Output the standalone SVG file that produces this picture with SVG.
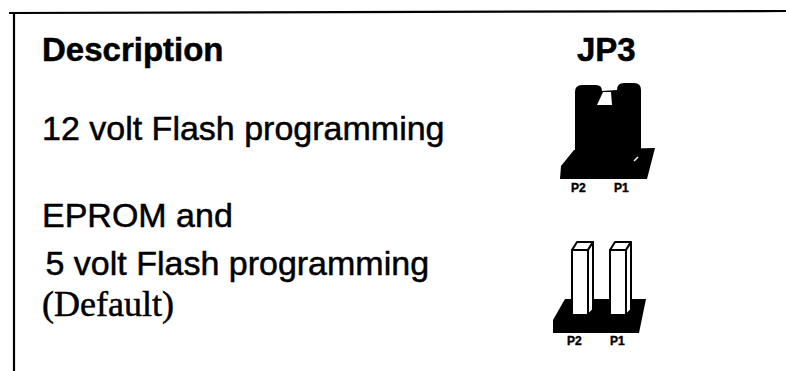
<svg xmlns="http://www.w3.org/2000/svg" width="786" height="371" viewBox="0 0 786 371">
  <style>
    .sans { font-family: "Liberation Sans", Arial, sans-serif; fill: #000; stroke: #000; stroke-width: 0.5; }
    .serif { font-family: "Liberation Serif", "Times New Roman", serif; fill: #000; stroke: #000; stroke-width: 0.5; }
    .head { font-weight: bold; font-size: 33px; }
    .body { font-size: 34px; }
    .pin-label { font-weight: bold; font-size: 12px; stroke-width: 0.4; }
    .frame { stroke: #000; stroke-width: 2.2; fill: none; }
    .ink { fill: #000; }
    .pin { fill: #fff; stroke: #000; stroke-width: 2; stroke-linejoin: round; }
  </style>
  <rect width="786" height="371" fill="#fff"/>

  <!-- table frame: top rule and left rule -->
  <g id="frame">
    <line class="frame" x1="9" y1="13" x2="786" y2="11"/>
    <line class="frame" x1="14" y1="12" x2="14" y2="371"/>
  </g>

  <!-- column headings -->
  <g id="headings">
    <text class="sans head" x="42" y="61">Description</text>
    <text class="sans head" x="577" y="61">JP3</text>
  </g>

  <!-- row 1: jumper fitted across P1-P2 -->
  <g id="row-12v">
    <text class="sans body" x="42" y="140">12 volt Flash programming</text>
    <g id="jp3-closed">
      <!-- base plate -->
      <polygon class="ink" points="574,150 655,148 647,179 560,179 561,166"/>
      <!-- jumper cap with two rounded tops -->
      <path class="ink" d="M575,163 L575,92 Q575,85 582,85 L596,85 Q602,85 602,91 L617,90 Q617,83 624,83 L634,83 Q641,83 641,90 L641,163 Z"/>
      <!-- light notch between the two tops -->
      <polygon fill="#fff" points="603,92 611,92 612,105 597,105"/>
      <!-- highlight on the plate -->
      <line x1="634" y1="161" x2="638" y2="157" stroke="#fff" stroke-width="1.5"/>
      <text class="sans pin-label" x="571" y="192">P2</text>
      <text class="sans pin-label" x="614" y="192">P1</text>
    </g>
  </g>

  <!-- row 2: both pins open -->
  <g id="row-5v">
    <text class="sans body" x="42" y="227">EPROM and</text>
    <text class="sans body" x="36" y="275" xml:space="preserve"> 5 volt Flash programming</text>
    <text class="serif body" x="42" y="316" style="font-size:36px">(Default)</text>
    <g id="jp3-open">
      <!-- base plate -->
      <polygon class="ink" points="565,299 646,299 639,333 553,333 553,320"/>
      <!-- pin P2 -->
      <polygon class="pin" points="572,250 577,242 593,242 588,250"/>
      <polygon class="pin" points="588,250 593,242 593,310 588,315"/>
      <rect class="pin" x="572" y="250" width="16" height="65"/>
      <!-- pin P1 -->
      <polygon class="pin" points="610,250 615,242 631,242 626,250"/>
      <polygon class="pin" points="626,250 631,242 631,310 626,315"/>
      <rect class="pin" x="610" y="250" width="16" height="65"/>
      <text class="sans pin-label" x="567" y="345">P2</text>
      <text class="sans pin-label" x="610" y="345">P1</text>
    </g>
  </g>
</svg>
